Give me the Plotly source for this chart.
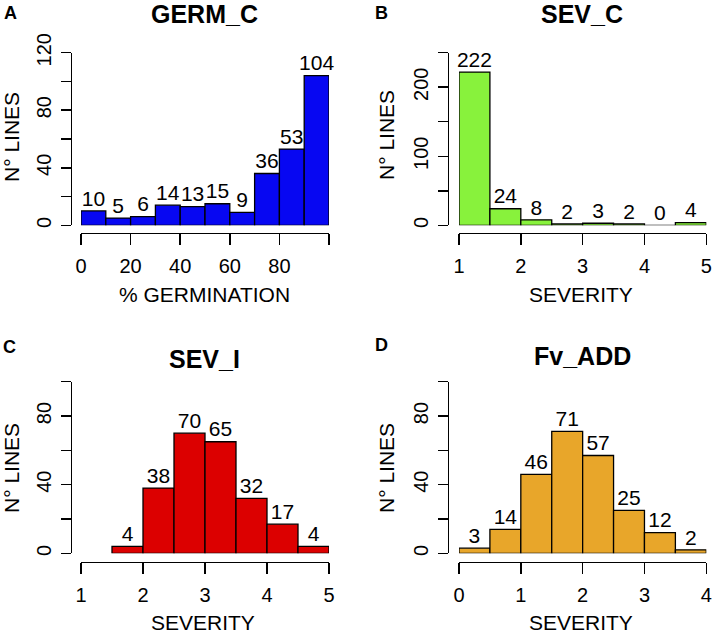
import plotly.graph_objects as go

W, H = 714, 635

# ---------------- data ----------------
germ_edges = [0, 10, 20, 30, 40, 50, 60, 70, 80, 90, 100]
germ_counts = [10, 5, 6, 14, 13, 15, 9, 36, 53, 104]

sevc_edges = [1, 1.5, 2, 2.5, 3, 3.5, 4, 4.5, 5]
sevc_counts = [222, 24, 8, 2, 3, 2, 0, 4]

sevi_edges = [1.5, 2, 2.5, 3, 3.5, 4, 4.5, 5]
sevi_counts = [4, 38, 70, 65, 32, 17, 4]

fv_edges = [0, 0.5, 1, 1.5, 2, 2.5, 3, 3.5, 4]
fv_counts = [3, 14, 46, 71, 57, 25, 12, 2]

germ_xticks = [0, 20, 40, 60, 80, 100]
germ_xlabels = ["0", "20", "40", "60", "80", ""]
germ_yticks = [0, 20, 40, 60, 80, 100, 120]
germ_ylabels = ["0", "", "40", "", "80", "", "120"]

sevc_xticks = [1, 2, 3, 4, 5]
sevc_yticks = [0, 50, 100, 150, 200, 250]
sevc_ylabels = ["0", "", "100", "", "200", ""]

sevi_xticks = [1, 2, 3, 4, 5]
fv_xticks = [0, 1, 2, 3, 4]
low_yticks = [0, 20, 40, 60, 80, 100]
low_ylabels = ["0", "", "40", "", "80", ""]

# ---------------- helpers ----------------
def px_x(p):
    return p / W

def px_y(p):
    return 1 - p / H

FONT = "Liberation Sans, Arial, Helvetica, sans-serif"
TICKFONT = dict(family=FONT, size=20, color="black")
LABFONT = dict(family=FONT, size=21, color="black")

panels = [
    dict(name="1", edges=germ_edges, counts=germ_counts, color="#0707F2",
         xr=[0, 100], yr=[0, 120],
         xtv=germ_xticks, xtt=germ_xlabels, ytv=germ_yticks, ytt=germ_ylabels,
         xdom=[px_x(81), px_x(329)], ydom=[px_y(225.3), px_y(52.7)],
         ypos=px_x(70.7), xpos=px_y(232.5),
         title="GERM_C", tpos=(204, 14), letter="A", lpos=(10, 13),
         xtitle="% GERMINATION", xtpos=(205, 294), ytpos=(11, 137)),
    dict(name="2", edges=sevc_edges, counts=sevc_counts, color="#88F23C",
         xr=[1, 5], yr=[0, 250],
         xtv=sevc_xticks, xtt=[str(v) for v in sevc_xticks], ytv=sevc_yticks, ytt=sevc_ylabels,
         xdom=[px_x(459), px_x(706.3)], ydom=[px_y(225.3), px_y(52.7)],
         ypos=px_x(447.7), xpos=px_y(232.5),
         title="SEV_C", tpos=(582, 14), letter="B", lpos=(381, 13),
         xtitle="SEVERITY", xtpos=(581, 294), ytpos=(386, 135)),
    dict(name="3", edges=sevi_edges, counts=sevi_counts, color="#DC0000",
         xr=[1, 5], yr=[0, 100],
         xtv=sevi_xticks, xtt=[str(v) for v in sevi_xticks], ytv=low_yticks, ytt=low_ylabels,
         xdom=[px_x(81), px_x(329)], ydom=[px_y(553.3), px_y(381.7)],
         ypos=px_x(70.7), xpos=px_y(561.7),
         title="SEV_I", tpos=(205, 359), letter="C", lpos=(9, 347),
         xtitle="SEVERITY", xtpos=(203, 622), ytpos=(11, 468)),
    dict(name="4", edges=fv_edges, counts=fv_counts, color="#E8A62A",
         xr=[0, 4], yr=[0, 100],
         xtv=fv_xticks, xtt=[str(v) for v in fv_xticks], ytv=low_yticks, ytt=low_ylabels,
         xdom=[px_x(459), px_x(706.3)], ydom=[px_y(553.3), px_y(381.7)],
         ypos=px_x(447.7), xpos=px_y(561.7),
         title="Fv_ADD", tpos=(582, 356), letter="D", lpos=(381, 345),
         xtitle="SEVERITY", xtpos=(581, 622), ytpos=(386, 468)),
]

fig = go.Figure()
annotations = []
layout_axes = {}

for p in panels:
    n = p["name"]
    xa = "x" if n == "1" else "x" + n
    ya = "y" if n == "1" else "y" + n
    e = p["edges"]
    centers = [(e[i] + e[i + 1]) / 2 for i in range(len(p["counts"]))]
    widths = [e[i + 1] - e[i] for i in range(len(p["counts"]))]
    fig.add_trace(go.Bar(
        x=centers, y=p["counts"], width=widths, xaxis=xa, yaxis=ya,
        marker=dict(color=p["color"], line=dict(color="black", width=1.3)),
        cliponaxis=False, showlegend=False, hoverinfo="skip",
    ))
    fig.add_trace(go.Scatter(
        x=centers, y=p["counts"], xaxis=xa, yaxis=ya, mode="text",
        text=[str(c) for c in p["counts"]], textposition="top center",
        textfont=LABFONT, cliponaxis=False, showlegend=False, hoverinfo="skip",
    ))
    xkey = "xaxis" if n == "1" else "xaxis" + n
    ykey = "yaxis" if n == "1" else "yaxis" + n
    layout_axes[xkey] = dict(
        domain=p["xdom"], range=p["xr"], anchor="free", position=p["xpos"],
        tickmode="array", tickvals=p["xtv"], ticktext=p["xtt"],
        ticks="outside", ticklen=11, tickwidth=1.5, tickcolor="black",
        showline=True, linecolor="black", linewidth=1.5,
        showgrid=False, zeroline=False, tickfont=TICKFONT, ticklabelstandoff=4,
        fixedrange=True, automargin=False,
    )
    layout_axes[ykey] = dict(
        domain=p["ydom"], range=p["yr"], anchor="free", position=p["ypos"],
        tickmode="array", tickvals=p["ytv"], ticktext=p["ytt"],
        ticks="outside", ticklen=10, tickwidth=1.5, tickcolor="black",
        showline=True, linecolor="black", linewidth=1.5, tickangle=-90,
        showgrid=False, zeroline=False, tickfont=TICKFONT, ticklabelstandoff=2,
        fixedrange=True, automargin=False,
    )
    annotations.append(dict(
        text="<b>%s</b>" % p["title"], x=px_x(p["tpos"][0]), y=px_y(p["tpos"][1]),
        xref="paper", yref="paper", xanchor="center", yanchor="middle",
        showarrow=False, font=dict(family=FONT, size=25, color="black")))
    annotations.append(dict(
        text="<b>%s</b>" % p["letter"], x=px_x(p["lpos"][0]), y=px_y(p["lpos"][1]),
        xref="paper", yref="paper", xanchor="center", yanchor="middle",
        showarrow=False, font=dict(family=FONT, size=18, color="black")))
    annotations.append(dict(
        text=p["xtitle"], x=px_x(p["xtpos"][0]), y=px_y(p["xtpos"][1]),
        xref="paper", yref="paper", xanchor="center", yanchor="middle",
        showarrow=False, font=LABFONT))
    annotations.append(dict(
        text="N° LINES", x=px_x(p["ytpos"][0]), y=px_y(p["ytpos"][1]),
        xref="paper", yref="paper", xanchor="center", yanchor="middle",
        textangle=-90, showarrow=False, font=LABFONT))

fig.update_layout(
    width=W, height=H,
    margin=dict(l=0, r=0, t=0, b=0, autoexpand=False),
    paper_bgcolor="white", plot_bgcolor="white",
    bargap=0, showlegend=False,
    annotations=annotations,
    **layout_axes,
)

fig.write_html(
    "out.html",
    config={"displayModeBar": False, "staticPlot": True},
    post_script="document.body.style.margin='0';document.body.style.overflow='hidden';",
)
